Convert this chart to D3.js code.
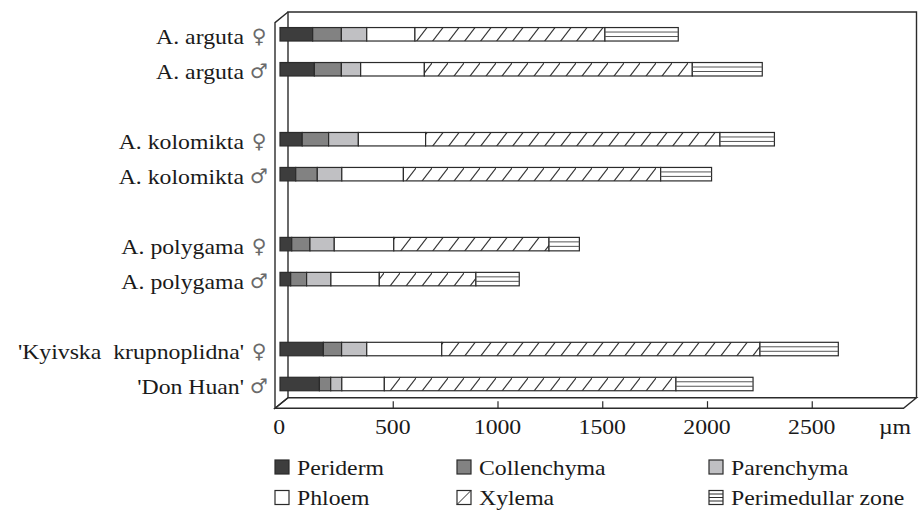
<!DOCTYPE html>
<html><head><meta charset="utf-8">
<script src="https://cdn.jsdelivr.net/npm/d3@7/dist/d3.min.js"></script>
<style>
html,body{margin:0;padding:0;background:#fff;}
svg{display:block;}
</style></head>
<body>
<svg id="chart" width="919" height="513"></svg>
<script>
// ---------- data ----------
const categories = ["A. arguta", "A. arguta", "A. kolomikta", "A. kolomikta",
  "A. polygama", "A. polygama", "'Kyivska\u00a0 krupnoplidna'", "'Don Huan'"];
const sexes = ["♀", "♂", "♀", "♂", "♀", "♂", "♀", "♂"];
const seriesNames = ["Periderm", "Collenchyma", "Parenchyma", "Phloem", "Xylema", "Perimedullar zone"];
const periderm     = [156, 164, 106,  75,  56,  51, 207, 188];
const collenchyma  = [137, 129, 126, 103,  87,  76,  87,  54];
const parenchyma   = [121,  92, 142, 117, 116, 116, 120,  53];
const phloem       = [230, 304, 321, 294, 284, 231, 358, 203];
const xylema       = [907,1279,1405,1228, 741, 461,1519,1392];
const perimedullar = [350, 334, 260, 243, 145, 207, 374, 368];
const xTicks = [0, 500, 1000, 1500, 2000, 2500];
const unitLabel = "µm";

const seriesValues = [periderm, collenchyma, parenchyma, phloem, xylema, perimedullar];

// ---------- styles ----------
const fills = {
  "Periderm": "#3d3d3d", "Collenchyma": "#828282", "Parenchyma": "#c0c0c3",
  "Phloem": "#ffffff", "Xylema": "url(#hatch)", "Perimedullar zone": "#ffffff"
};
const lineCol = "#2b2b2b";
const SERIF = "Liberation Serif, Times New Roman, DejaVu Serif, serif";
const FS = 22, SX = 1.08;

const svg = d3.select("#chart");
const defs = svg.append("defs");
const pat = defs.append("pattern").attr("id", "hatch")
  .attr("patternUnits", "userSpaceOnUse").attr("width", 16).attr("height", 21);
pat.append("rect").attr("width", 16).attr("height", 21).attr("fill", "#fff");
pat.append("line").attr("x1", -1).attr("y1", 22.3).attr("x2", 17).attr("y2", -1.3)
  .attr("stroke", "#333").attr("stroke-width", 1.1);

// ---------- scales ----------
const x = d3.scaleLinear().domain([0, 3000]).range([288, 916.5]);
const depthX = -13, depthY = 10.6;      // front plane offset
const barDX = -8;                          // bars sit between back and front plane

const slotKeys = [];
categories.forEach((c, i) => {
  slotKeys.push("c" + i);
  if (i % 2 === 1 && i < categories.length - 1) slotKeys.push("gap" + i);
});
const y = d3.scaleBand().domain(slotKeys).range([16.8, 401.5])
  .paddingInner(0.615).paddingOuter(0.3075);

// ---------- 3D frame ----------
const x0 = x(0), x1 = x(3000), yTop = 12, yFloor = 397.7;
const frame = svg.append("g").attr("fill", "none").attr("stroke", lineCol).attr("stroke-width", 1.4);
frame.append("path").attr("d", `M${x0},${yFloor}V${yTop}H${x1}V${yFloor}`);
frame.append("path").attr("d", `M${x0},${yTop}L${x0 + depthX},${yTop + depthY}V${yFloor + depthY}L${x0},${yFloor}`);
frame.append("path").attr("d", `M${x0},${yFloor}H${x1}L${x1 + depthX},${yFloor + depthY}H${x0 + depthX}Z`);

// ticks
svg.append("g").attr("transform", `translate(0,${yFloor + 3.5})`)
  .call(d3.axisBottom(x).tickValues(xTicks.filter(d => d > 0)).tickSize(7).tickFormat(""))
  .call(g => g.select(".domain").remove())
  .call(g => g.selectAll(".tick line").attr("stroke", lineCol).attr("stroke-width", 1.2));

function serifText(sel) {
  return sel.attr("font-family", SERIF).attr("font-size", FS).attr("fill", "#1a1a1a");
}

// tick labels
svg.append("g").selectAll("text").data(xTicks).join("text")
  .call(serifText).attr("text-anchor", "middle")
  .attr("transform", d => `translate(${x(d) + (d === 0 ? -8.7 : 0)},434) scale(${SX},1)`)
  .text(d => d);
svg.append("text").call(serifText).attr("text-anchor", "middle")
  .attr("transform", `translate(895,434) scale(${SX},1)`).text(unitLabel);

// ---------- bars ----------
const rows = categories.map((c, i) => {
  let acc = 0;
  const segs = seriesNames.map((s, j) => {
    const v = seriesValues[j][i];
    const seg = {series: s, start: acc, end: acc + v, row: i};
    acc += v;
    return seg;
  });
  return {key: "c" + i, segs};
});

const bh = y.bandwidth();
const barG = svg.append("g");
rows.forEach(r => {
  const g = barG.append("g");
  const yy = y(r.key);
  g.selectAll("rect").data(r.segs).join("rect")
    .attr("x", d => x(d.start) + barDX)
    .attr("y", yy)
    .attr("width", d => x(d.end) - x(d.start))
    .attr("height", bh)
    .attr("fill", d => fills[d.series])
    .attr("stroke", lineCol).attr("stroke-width", 1.2);
  const pm = r.segs.filter(d => d.series === "Perimedullar zone");
  [1 / 3, 2 / 3].forEach(f => {
    g.selectAll(null).data(pm).join("line")
      .attr("x1", d => x(d.start) + barDX).attr("x2", d => x(d.end) + barDX)
      .attr("y1", yy + bh * f).attr("y2", yy + bh * f)
      .attr("stroke", "#555").attr("stroke-width", 1);
  });
});

// ---------- category labels ----------
const lab = svg.append("g");
categories.forEach((c, i) => {
  const cy = y("c" + i) + bh / 2;
  lab.append("text").call(serifText).attr("text-anchor", "end")
    .attr("transform", `translate(244,${cy + 10}) scale(${SX},1)`).text(c);
  lab.append("text").attr("text-anchor", "middle").attr("font-size", 20)
    .attr("font-family", "DejaVu Sans ExtraLight, DejaVu Sans, sans-serif")
    .attr("fill", "#6a6a6a")
    .attr("transform", `translate(259,${cy + 9})`).text(sexes[i]);
});

// ---------- legend ----------
const legCols = [275, 457, 709], legRows = [467, 497.5];
const leg = svg.append("g");
seriesNames.forEach((s, j) => {
  const lx = legCols[j % 3], ly = legRows[Math.floor(j / 3)];
  const g = leg.append("g").attr("transform", `translate(${lx},${ly})`);
  const fill = s === "Xylema" ? "#fff" : fills[s];
  g.append("rect").attr("x", 0).attr("y", -7).attr("width", 14).attr("height", 14)
    .attr("fill", fill).attr("stroke", lineCol).attr("stroke-width", 1.2);
  if (s === "Xylema") g.append("line").attr("x1", 0).attr("y1", 7).attr("x2", 14).attr("y2", -7)
    .attr("stroke", lineCol).attr("stroke-width", 1);
  if (s === "Perimedullar zone") [-3.5, 0, 3.5].forEach(o =>
    g.append("line").attr("x1", 0).attr("x2", 14).attr("y1", o).attr("y2", o)
      .attr("stroke", lineCol).attr("stroke-width", 1));
  g.append("text").call(serifText)
    .attr("transform", `translate(22,7.5) scale(${SX},1)`).text(s);
});
</script>
</body></html>
